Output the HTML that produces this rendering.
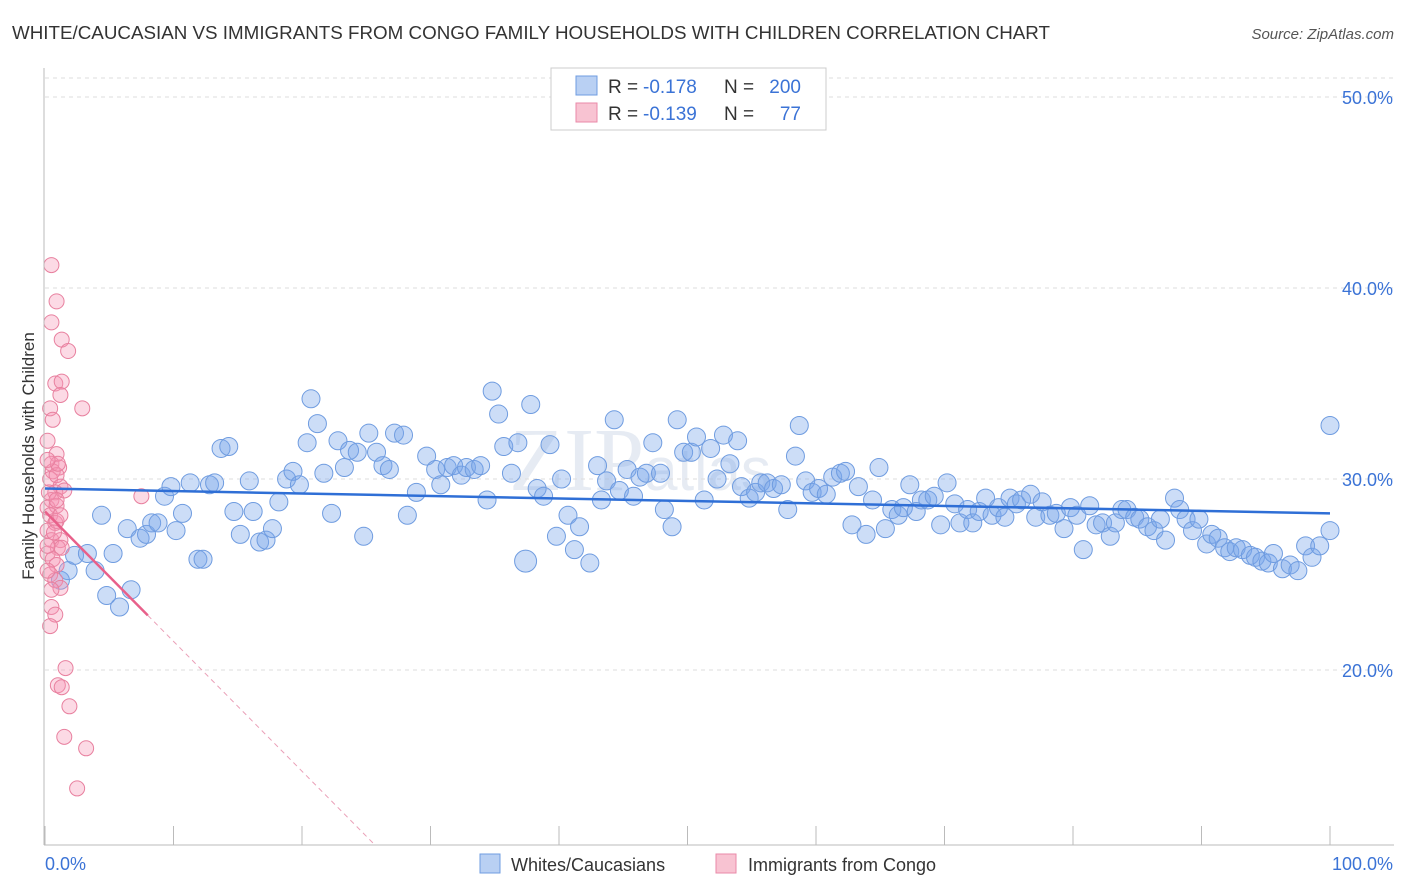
<!DOCTYPE html>
<html><head><meta charset="utf-8"><style>
body{margin:0;background:#fff;font-family:"Liberation Sans",sans-serif;}
#wrap{position:relative;width:1406px;height:892px;overflow:hidden;}
</style></head><body><div id="wrap">
<svg id="svg" width="1406" height="892" xmlns="http://www.w3.org/2000/svg">
<text x="12" y="39" font-size="18.5" fill="#333" textLength="1038" lengthAdjust="spacingAndGlyphs">WHITE/CAUCASIAN VS IMMIGRANTS FROM CONGO FAMILY HOUSEHOLDS WITH CHILDREN CORRELATION CHART</text>
<text x="1394" y="39" font-size="15" fill="#555" font-style="italic" text-anchor="end">Source: ZipAtlas.com</text>
<text x="34" y="456" font-size="17" fill="#333" text-anchor="middle" transform="rotate(-90 34 456)">Family Households with Children</text>
<text x="640" y="490" font-size="90" fill="#e6ebf3" font-family="Liberation Serif" text-anchor="middle">ZIP<tspan font-size="60" font-family="Liberation Sans">atlas</tspan></text>
<g id="grid"></g><g id="pts"></g><g id="trend"></g>
<line x1="44" y1="68" x2="44" y2="845" stroke="#bbb"/>
<line x1="44" y1="845" x2="1394" y2="845" stroke="#bbb"/>
<g>
<rect x="551" y="68" width="275" height="62" fill="#fff" stroke="#ccc"/>
<rect x="576" y="76" width="21" height="19" fill="#b9d0f3" stroke="#6f9ce0"/>
<rect x="576" y="103" width="21" height="19" fill="#f8c3d2" stroke="#ea8aa8"/>
<g font-size="19" fill="#333">
<text x="608" y="93">R =</text>
<text x="643" y="93" fill="#3b73d6">-0.178</text>
<text x="724" y="93">N =</text>
<text x="801" y="93" fill="#3b73d6" text-anchor="end">200</text>
<text x="608" y="120">R =</text>
<text x="643" y="120" fill="#3b73d6">-0.139</text>
<text x="724" y="120">N =</text>
<text x="801" y="120" fill="#3b73d6" text-anchor="end">77</text>
</g>
</g>
<text x="45" y="870" font-size="18" fill="#3b73d6">0.0%</text>
<text x="1393" y="870" font-size="18" fill="#3b73d6" text-anchor="end">100.0%</text>
<g>
<rect x="480" y="854" width="20" height="19" fill="#b9d0f3" stroke="#6f9ce0"/>
<text x="511" y="871" font-size="18" fill="#333">Whites/Caucasians</text>
<rect x="716" y="854" width="20" height="19" fill="#f8c3d2" stroke="#ea8aa8"/>
<text x="748" y="871" font-size="18" fill="#333">Immigrants from Congo</text>
</g>
</svg></div>
<script>
const yTicks=[20,30,40,50];
const yTickLabels=["20.0%","30.0%","40.0%","50.0%"];
const xTickVals=[0,10,20,30,40,50,60,70,80,90,100];
const blueX=[1.2,1.8,2.3,3.3,3.9,4.4,4.8,5.3,5.8,6.4,6.7,7.4,7.9,8.3,8.8,9.3,9.8,10.2,10.7,11.3,11.9,12.3,12.8,13.2,13.7,14.3,14.7,15.2,15.9,16.2,16.7,17.2,17.7,18.2,18.8,19.3,19.8,20.4,20.7,21.2,21.7,22.3,22.8,23.3,23.7,24.3,24.8,25.2,25.8,26.3,26.8,27.2,27.9,28.2,28.9,29.7,30.4,30.8,31.3,31.8,32.4,32.8,33.4,33.9,34.4,34.8,35.3,35.7,36.3,36.8,37.4,37.8,38.3,38.8,39.3,39.8,40.2,40.7,41.2,41.6,42.4,43.0,43.3,43.7,44.3,44.7,45.3,45.8,46.3,46.8,47.3,47.9,48.2,48.8,49.2,49.7,50.3,50.7,51.3,51.8,52.3,52.8,53.3,53.9,54.2,54.8,55.3,55.7,56.2,56.7,57.3,57.8,58.4,58.7,59.2,59.7,60.2,60.8,61.3,61.9,62.3,62.8,63.3,63.9,64.4,64.9,65.4,65.9,66.4,66.8,67.3,67.8,68.2,68.7,69.2,69.7,70.2,70.8,71.2,71.8,72.2,72.7,73.2,73.7,74.2,74.7,75.1,75.6,76.0,76.7,77.1,77.6,78.2,78.7,79.3,79.8,80.3,80.8,81.3,81.8,82.3,82.9,83.3,83.8,84.2,84.8,85.2,85.8,86.3,86.8,87.2,87.9,88.3,88.8,89.3,89.8,90.4,90.8,91.3,91.8,92.2,92.7,93.2,93.8,94.2,94.7,95.2,95.6,96.3,96.9,97.5,98.1,98.6,99.2,100,100];
const blueY=[24.7,25.2,26.0,26.1,25.2,28.1,23.9,26.1,23.3,27.4,24.2,26.9,27.1,27.7,27.7,29.1,29.6,27.3,28.2,29.8,25.8,25.8,29.7,29.8,31.6,31.7,28.3,27.1,29.9,28.3,26.7,26.8,27.4,28.8,30.0,30.4,29.7,31.9,34.2,32.9,30.3,28.2,32.0,30.6,31.5,31.4,27.0,32.4,31.4,30.7,30.5,32.4,32.3,28.1,29.3,31.2,30.5,29.7,30.6,30.7,30.2,30.6,30.5,30.7,28.9,34.6,33.4,31.7,30.3,31.9,25.7,33.9,29.5,29.1,31.8,27.0,30.0,28.1,26.3,27.5,25.6,30.7,28.9,29.9,33.1,29.4,30.5,29.1,30.1,30.3,31.9,30.3,28.4,27.5,33.1,31.4,31.4,32.2,28.9,31.6,30.0,32.3,30.8,32.0,29.6,29.0,29.3,29.8,29.8,29.5,29.7,28.4,31.2,32.8,29.9,29.3,29.5,29.2,30.1,30.3,30.4,27.6,29.6,27.1,28.9,30.6,27.4,28.4,28.1,28.5,29.7,28.3,28.9,28.9,29.1,27.6,29.8,28.7,27.7,28.4,27.7,28.3,29.0,28.1,28.5,28.0,29.0,28.7,28.9,29.2,28.0,28.8,28.1,28.2,27.4,28.5,28.1,26.3,28.6,27.6,27.7,27.0,27.7,28.4,28.4,28.0,27.9,27.5,27.3,27.9,26.8,29.0,28.4,27.9,27.3,27.9,26.6,27.1,26.9,26.4,26.2,26.4,26.3,26.0,25.9,25.7,25.6,26.1,25.3,25.5,25.2,26.5,25.9,26.5,32.8,27.3];
const pinkX=[0.5,0.9,0.5,1.3,1.8,0.8,1.3,1.2,2.9,0.4,0.6,0.2,0.9,0.5,1.1,0.6,0.4,0.9,1.2,0.8,0.5,0.2,0.9,0.4,0.8,0.2,0.5,1.2,1.0,1.3,0.2,0.6,0.9,0.4,0.8,1.2,0.5,0.8,0.4,1.6,1.0,1.3,1.9,1.5,3.2,2.5,7.5,1.5,0.3,0.9,0.2,0.7,1.0,0.2,1.2,0.2,0.5,0.9];
const pinkY=[41.2,39.3,38.2,37.3,36.7,35.0,35.1,34.4,33.7,33.7,33.1,32.0,31.3,30.8,30.6,30.4,30.0,30.2,29.6,29.3,28.9,28.5,28.6,28.1,27.7,27.3,26.8,26.8,26.4,26.4,26.1,25.8,25.5,25.0,24.7,24.3,23.3,22.9,22.3,20.1,19.2,19.1,18.1,16.5,15.9,13.8,29.1,29.4,29.3,27.8,26.5,27.2,30.8,31.0,28.1,25.2,24.2,28.9];
const blueTrend=[29.5,28.2];
const pinkTrend=[28.3,-0.68];
const NS='http://www.w3.org/2000/svg';
const sx=v=>45+v*12.85, sy=v=>479-(v-30)*19.1;
function mk(t,a,p){const e=document.createElementNS(NS,t);for(const k in a)e.setAttribute(k,a[k]);p.appendChild(e);return e;}
const g=document.getElementById('grid');
yTicks.forEach((v,i)=>{
 const l=mk('line',{x1:45,x2:1394,y1:sy(v),y2:sy(v),stroke:'#ddd','stroke-dasharray':'4,4'},g);
 
 
 const t=mk('text',{x:1393,y:sy(v)+7,'font-size':18,fill:'#3b73d6','text-anchor':'end'},g);
 t.textContent=yTickLabels[i];
 
 
});
mk('line',{x1:45,x2:1394,y1:78,y2:78,stroke:'#ddd','stroke-dasharray':'4,4'},g);
xTickVals.forEach(v=>{
 const l=mk('line',{x1:sx(v),x2:sx(v),y1:826,y2:845,stroke:'#bbb'},g);
 
 
});
const p=document.getElementById('pts');
blueX.forEach((x,i)=>{
 const c=mk('circle',{cx:sx(x),cy:sy(blueY[i]),r:(i==70?11:9),fill:'rgba(120,165,235,0.38)',stroke:'#6f9ce0','stroke-width':1},p);
 
 
});
pinkX.forEach((x,i)=>{
 const c=mk('circle',{cx:sx(x),cy:sy(pinkY[i]),r:7.5,fill:'rgba(245,150,180,0.35)',stroke:'#e8809f','stroke-width':1},p);
 
 
});
const tr=document.getElementById('trend');
const bl=mk('line',{x1:sx(0),y1:sy(blueTrend[0]),x2:sx(100),y2:sy(blueTrend[1]),stroke:'#2f6fd6','stroke-width':2.5},tr);


const pf=x=>pinkTrend[0]+pinkTrend[1]*x;
const pl=mk('line',{x1:sx(0),y1:sy(pf(0)),x2:sx(8),y2:sy(pf(8)),stroke:'#e8608a','stroke-width':2.5},tr);


const xe=(10.85-pinkTrend[0])/pinkTrend[1];
const pd=mk('line',{x1:sx(8),y1:sy(pf(8)),x2:sx(xe),y2:sy(pf(xe)),stroke:'#eaa0b8','stroke-width':1,'stroke-dasharray':'5,4'},tr);


</script></body></html>
